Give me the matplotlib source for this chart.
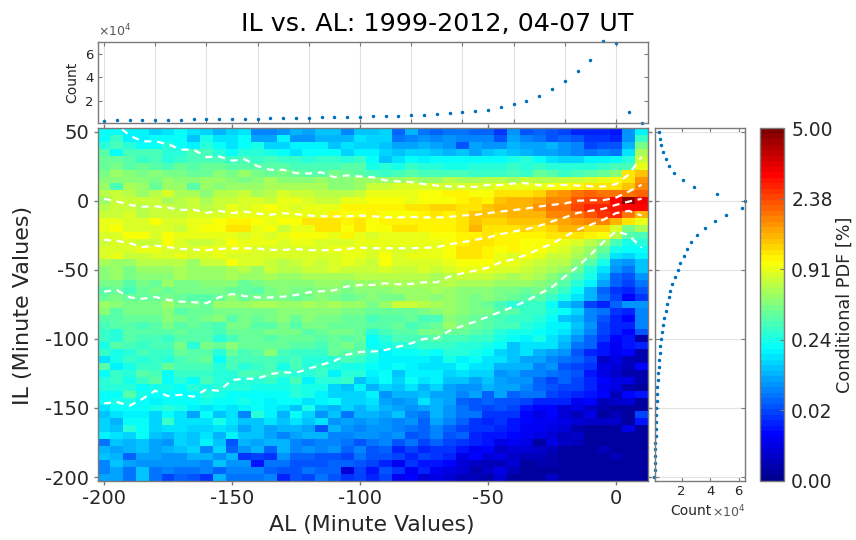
import numpy as np
import matplotlib
matplotlib.use('Agg')
import matplotlib.pyplot as plt
from matplotlib.colors import LinearSegmentedColormap

plt.rcParams['axes.unicode_minus'] = False

al_bins = np.arange(-200, 15, 5)
il_bins = np.arange(50, -205, -5)

# colour index (0-63 on the 64 step jet scale) read per cell, top row is IL=50
pdf_left = [
    [24,24,23,23,21,22,24,22,21,19,21,22,16,16,17,19,18,20,20,16,20],
    [24,27,23,23,24,24,24,20,25,22,22,24,18,18,23,17,17,19,19,19,22],
    [26,28,26,24,24,26,24,23,26,24,22,24,25,21,21,23,23,23,20,22,21],
    [29,24,28,28,28,26,26,28,28,26,24,26,26,25,24,22,24,24,24,21,23],
    [30,30,29,27,28,26,27,28,28,28,27,28,27,28,27,27,26,27,27,26,27],
    [30,31,29,30,29,28,30,29,30,30,29,29,29,29,29,28,28,28,28,29,29],
    [31,33,32,31,32,31,31,30,30,32,31,33,31,30,31,30,29,29,31,30,29],
    [32,32,32,32,31,33,32,32,33,33,32,31,32,34,32,32,32,33,32,32,33],
    [33,28,34,33,30,33,33,29,33,32,33,33,33,34,34,34,34,34,32,32,33],
    [35,36,35,33,35,37,34,34,32,35,35,36,34,35,37,36,36,35,35,35,36],
    [33,36,36,36,36,34,35,36,34,36,36,37,37,36,38,38,37,36,36,38,38],
    [35,36,36,35,36,36,35,36,35,36,38,37,38,39,38,37,38,38,38,40,40],
    [36,36,37,35,36,36,36,37,37,37,38,38,38,38,38,38,38,38,40,39,39],
    [38,38,37,37,39,37,37,38,38,39,40,40,39,38,39,39,41,41,41,40,41],
    [38,39,37,37,37,37,36,38,39,39,41,41,38,39,36,38,38,41,41,39,41],
    [37,37,39,39,37,39,38,38,38,38,38,37,38,37,38,39,39,39,38,40,38],
    [36,37,37,36,36,39,37,36,36,37,39,38,38,38,37,38,38,37,37,37,38],
    [37,37,37,38,38,37,37,37,38,38,38,38,37,37,37,37,37,37,38,38,38],
    [37,38,36,36,37,37,38,37,37,38,37,37,37,37,37,37,37,37,37,38,38],
    [34,33,33,35,35,35,35,33,36,36,39,37,37,36,35,36,37,36,37,38,37],
    [32,33,31,33,33,33,34,33,33,33,34,35,33,36,35,35,36,36,37,36,36],
    [32,33,31,32,32,32,34,33,33,33,34,33,33,34,33,33,34,34,34,34,35],
    [31,31,29,31,30,33,31,31,32,32,32,30,31,32,32,32,32,33,33,32,33],
    [29,30,28,30,31,30,31,31,31,31,30,30,29,31,32,31,31,32,32,31,32],
    [30,31,30,30,30,31,30,29,29,30,32,30,31,31,31,30,31,32,31,30,31],
    [33,32,31,31,31,33,31,31,30,33,33,33,34,34,33,33,34,33,34,33,33],
    [32,29,31,31,31,32,29,30,30,31,31,31,31,31,32,32,32,32,32,31,31],
    [29,29,30,30,30,32,31,30,31,32,29,31,30,31,32,30,32,31,31,30,30],
    [28,29,29,28,29,31,29,30,29,28,31,31,29,29,31,29,31,31,30,30,30],
    [27,26,29,29,29,29,30,29,29,28,30,30,30,31,31,31,29,30,31,31,30],
    [27,26,29,28,28,27,29,29,29,26,28,30,30,29,30,30,30,29,30,29,30],
    [25,29,28,27,28,28,31,26,31,30,32,30,30,30,30,29,29,28,30,31,29],
    [27,25,26,28,27,27,30,29,29,26,30,28,29,32,28,27,27,27,30,29,29],
    [22,25,27,26,27,26,28,29,30,24,28,28,28,28,27,28,26,26,26,28,27],
    [29,23,25,27,27,30,28,28,28,26,28,26,27,28,25,28,26,27,26,25,25],
    [24,27,26,29,28,24,27,27,27,26,26,28,28,28,27,26,26,27,23,26,26],
    [26,27,25,27,29,24,26,24,28,26,26,26,26,27,25,28,23,26,26,27,20],
    [26,26,26,24,25,25,24,26,25,26,26,26,25,25,25,26,25,25,21,20,23],
    [24,24,29,25,24,24,24,24,26,25,24,24,24,24,24,26,25,23,21,21,21],
    [24,25,25,24,23,24,24,24,25,24,24,25,24,23,24,24,22,23,24,21,21],
    [22,24,24,24,25,26,25,23,22,23,22,23,24,23,22,20,25,20,19,21,19],
    [20,22,23,23,21,24,22,18,24,20,22,16,26,23,19,24,21,17,20,15,19],
    [21,19,24,24,21,27,22,22,22,25,22,20,20,22,20,22,20,22,17,18,17],
    [21,20,26,24,21,22,22,21,21,22,21,18,20,18,19,19,18,13,19,17,16],
    [23,22,21,24,20,19,21,20,22,19,23,20,20,18,16,18,19,19,16,16,17],
    [15,20,19,20,18,17,21,20,23,20,13,19,18,19,19,16,15,16,16,15,13],
    [19,18,19,20,18,19,20,21,16,21,14,17,19,14,19,16,17,16,17,14,16],
    [20,19,14,18,18,17,17,19,19,17,19,11,12,11,17,14,14,13,13,12,15],
    [16,20,18,17,17,17,17,17,16,20,17,17,9,15,15,13,13,13,14,14,13],
    [16,18,15,20,15,16,15,15,16,14,16,16,16,14,13,13,15,14,14,5,12],
    [18,18,15,20,15,12,14,13,11,19,15,15,15,16,10,13,12,15,13,11,12],
]
pdf_right = [
    [20,21,14,19,15,14,15,15,14,14,11,17,13,14,13,12,10,10,10,9,17,23],
    [21,21,15,16,17,16,17,16,16,16,13,18,16,15,13,14,13,11,11,10,17,27],
    [21,20,18,18,19,18,17,13,18,17,17,19,18,18,19,17,16,12,13,13,19,31],
    [23,21,20,21,21,20,19,20,18,20,21,20,19,18,18,17,16,15,16,15,22,34],
    [24,20,22,24,23,24,24,24,24,24,24,25,26,24,22,21,21,23,23,24,26,36],
    [25,26,25,27,26,26,25,25,26,26,26,27,26,27,26,26,26,26,27,28,28,38],
    [28,27,28,29,28,28,28,28,27,27,27,28,27,30,29,27,28,29,30,32,41,43],
    [33,33,33,34,33,33,35,34,34,35,35,34,36,35,35,36,36,37,38,39,41,46],
    [36,36,37,37,37,37,36,37,37,37,38,38,38,38,39,39,40,41,41,41,43,47],
    [38,38,38,38,39,39,40,40,39,39,41,41,41,42,45,46,48,49,48,48,48,49],
    [39,39,39,38,39,39,39,40,41,40,43,44,44,45,47,47,50,51,51,55,62,56],
    [40,40,40,41,41,42,42,41,41,43,44,44,44,46,48,48,51,53,53,54,55,55],
    [40,39,39,39,40,41,40,41,43,43,43,44,44,44,47,47,48,50,52,53,48,44],
    [39,40,40,40,40,40,40,41,43,42,42,43,43,43,44,45,46,47,47,44,41,38],
    [39,39,41,41,40,40,40,41,44,41,41,41,42,41,42,44,44,42,42,37,31,34],
    [37,38,38,38,38,39,39,40,40,41,40,40,40,40,41,41,41,40,39,35,29,28],
    [38,38,38,38,38,38,39,40,41,41,40,40,39,39,39,38,37,35,33,28,25,26],
    [37,38,37,37,38,38,39,41,41,40,39,40,39,39,38,37,35,33,30,25,24,24],
    [37,39,37,38,38,38,39,41,41,40,38,37,39,38,36,36,34,32,28,22,21,23],
    [36,39,37,37,37,37,38,39,39,39,38,38,37,36,35,35,32,29,25,18,17,20],
    [36,37,36,36,37,36,37,38,38,38,37,37,36,35,34,33,30,26,22,17,15,20],
    [35,35,35,35,35,34,35,36,36,36,35,34,35,34,32,30,28,25,20,14,13,17],
    [33,34,34,34,34,34,35,34,34,34,33,33,33,32,31,29,26,23,18,14,12,15],
    [32,32,33,33,33,34,33,32,32,32,31,31,30,31,29,27,24,19,14,11,10,13],
    [32,31,31,33,33,32,33,32,31,32,31,30,29,29,27,25,22,19,15,12,8,11],
    [31,33,36,36,35,34,33,32,31,30,28,26,27,27,24,20,18,12,10,14,17,17],
    [30,30,30,30,31,32,33,32,31,31,29,29,27,27,25,24,21,16,15,11,10,16],
    [28,29,29,30,28,28,32,31,30,29,28,27,27,26,24,20,19,16,13,10,8,16],
    [29,29,30,28,29,30,33,31,30,29,28,28,26,25,23,23,20,17,12,10,10,16],
    [26,28,29,29,31,31,30,30,29,28,26,25,25,24,23,22,19,16,12,10,8,13],
    [24,26,28,28,28,29,28,28,27,27,25,24,23,25,22,20,17,14,11,8,9,2],
    [24,25,26,26,27,27,27,26,26,25,24,20,22,22,22,19,15,14,9,7,9,10],
    [26,23,24,24,25,24,26,26,25,24,21,20,22,19,18,17,13,10,9,7,8,2],
    [25,23,23,23,23,22,25,23,24,22,22,20,18,18,16,15,14,12,4,6,3,2],
    [24,23,24,23,22,22,22,24,22,22,19,19,19,16,17,13,12,11,6,5,3,8],
    [23,24,20,23,23,23,21,22,21,21,17,18,16,16,15,14,13,9,6,4,2,2],
    [22,24,21,24,22,23,20,20,18,20,18,17,17,14,12,14,12,10,8,6,6,2],
    [19,21,20,22,19,21,18,17,17,19,18,18,16,14,13,12,12,10,7,6,2,1],
    [23,17,19,19,20,18,18,16,18,14,18,14,15,15,12,11,10,9,8,3,8,9],
    [22,18,17,18,22,19,18,14,13,14,13,13,12,10,10,10,7,8,3,4,5,1],
    [21,19,18,17,18,19,17,15,13,12,13,12,9,8,8,5,6,4,2,1,1,1],
    [19,18,20,16,15,19,17,15,15,11,11,11,8,6,8,5,3,6,1,3,1,12],
    [18,17,16,17,14,18,16,14,11,10,11,9,8,7,7,6,5,4,4,4,1,9],
    [17,17,16,15,14,16,14,12,11,11,10,9,7,7,6,5,2,1,1,1,6,1],
    [17,16,17,13,14,16,13,14,10,9,9,8,7,6,5,3,4,1,1,1,1,1],
    [15,16,13,15,12,14,12,11,10,9,6,7,6,1,6,4,3,1,1,1,1,1],
    [13,14,10,12,10,11,11,9,7,8,4,5,5,4,3,1,1,1,3,1,1,1],
    [13,13,12,10,12,11,10,6,8,5,6,4,3,3,2,1,1,1,1,3,1,1],
    [12,10,7,11,9,9,8,5,4,3,3,5,1,2,2,1,1,1,1,1,1,1],
    [9,13,11,7,10,7,6,5,2,4,6,3,1,1,1,1,1,1,1,1,1,1],
    [10,12,7,8,5,6,5,3,3,2,5,1,1,1,4,1,1,1,1,1,1,1],
]

# dashed percentile curves, one value per AL bin
curve_1 = [65,55,47.3,43,43,41,37,37,31.6,32,29,30,25,22.4,22.4,20,19.7,20.5,17,18.3,17.6,
           17,14.7,14,13.5,12,11,10.3,10.3,10,11.5,11.3,12.5,12.7,11.3,10.8,11.5,11,10.5,10.3,12,19,32]
curve_2 = [1.4,-0.5,-3,-4.4,-4,-5,-6.6,-6.4,-8.8,-7.3,-9,-7.8,-9.3,-10.2,-9,-9.7,-10.7,-11.2,-11.4,-11.2,-10.7,
           -11.2,-12,-12.1,-11.7,-12.1,-12.1,-11.7,-10.7,-10.2,-9,-7.8,-6.8,-5.6,-4.2,-3,-2,0,0.4,0.4,2.3,6.7,11.5]
curve_3 = [-28.3,-29,-30.7,-33.6,-32.4,-33.6,-34.9,-35.3,-35.8,-34.9,-34.6,-34.4,-34.6,-35.6,-35.6,-34.9,-35.8,-35.8,-35.8,-34.9,-33.9,
           -34.4,-34.4,-34.4,-34.4,-34.1,-33.6,-31.5,-30,-28.3,-26.6,-24.2,-22.3,-20.6,-18.2,-15,-12.1,-8.8,-7.3,-5.9,-3,-0.6,1.4]
curve_4 = [-65.8,-64.6,-69.9,-71,-69.6,-71.8,-73,-73.5,-74.2,-69.9,-67.5,-69,-70,-70,-69.4,-68.2,-66.3,-65.5,-64.8,-62,-61,
           -61,-59.7,-60.5,-60.2,-59,-59,-54.9,-52.5,-50.6,-48.4,-44.5,-42.3,-39.2,-34.9,-31.2,-25.9,-21,-17.5,-13.8,-9,-7.3,-10.7]
curve_5 = [-146.7,-145.7,-148.4,-143.5,-137.5,-141.4,-140.4,-141.8,-136.5,-137.7,-129.8,-128.8,-128.8,-125.4,-124.2,-124.5,-121.6,-118.7,-116,-111.4,-109.5,
           -109.2,-108,-105.6,-103.2,-100,-99.6,-94,-90.6,-87.5,-83.9,-80.3,-76.6,-72.5,-67.5,-62.6,-54.9,-47.7,-39.2,-30,-22,-25,-34]

# marginal counts in units of 1e4
al_count = [.33,.35,.35,.38,.41,.41,.41,.44,.44,.47,.47,.5,.5,.52,.52,.55,.58,.61,.61,.64,.67,
            .7,.72,.75,.78,.84,.87,.95,1.06,1.12,1.26,1.46,1.72,2.0,2.42,3.02,3.7,4.5,5.43,7.05,6.88,1.06,.15]
il_count = [.39,.46,.57,.71,.9,1.13,1.49,2.07,2.89,4.48,6.47,6.21,5.09,4.36,3.66,3.1,2.68,2.4,2.14,1.9,1.72,
            1.51,1.35,1.2,1.09,.97,.88,.78,.69,.64,.55,.5,.46,.43,.39,.36,.32,.3,.27,.25,.22,.2,.2,.18,.18,.15,.15,.13,.13,.11,.08]

cbar_labels = ['0.00', '0.02', '0.24', '0.91', '2.38', '5.00']
al_ticks = [-200, -150, -100, -50, 0]
il_ticks = [-200, -150, -100, -50, 0, 50]

W, H = 856, 540
GRAY = '#7a7a7a'
TEXT = '#262626'
DOT = '#0072bd'

# MATLAB flavoured jet, the matplotlib one sits slightly off
matlab_jet = LinearSegmentedColormap('matlab_jet', {
    'red': [(0, 0, 0), (.375, 0, 0), (.625, 1, 1), (.875, 1, 1), (1, .5, .5)],
    'green': [(0, 0, 0), (.125, 0, 0), (.375, 1, 1), (.625, 1, 1), (.875, 0, 0), (1, 0, 0)],
    'blue': [(0, .5625, .5625), (.125, 1, 1), (.375, 1, 1), (.625, 0, 0), (1, 0, 0)],
}, N=64)


def px_axes(fig, left, top, right, bottom):
    return fig.add_axes([left / W, 1 - bottom / H, (right - left) / W, (bottom - top) / H])


def style_box(ax):
    for s in ax.spines.values():
        s.set_color(GRAY)
        s.set_linewidth(1.0)


fig = plt.figure(figsize=(W / 100, H / 100), dpi=100)

# main panel
ax = px_axes(fig, 97.5, 128.2, 648, 480.5)
pdf = np.hstack([np.array(pdf_left), np.array(pdf_right)])
x_edges = np.append(al_bins - 2.5, al_bins[-1] + 2.5)
y_edges = np.append(il_bins + 2.5, il_bins[-1] - 2.5)
mesh = ax.pcolormesh(x_edges, y_edges, pdf, cmap=matlab_jet, vmin=-0.5, vmax=63.5)
for curve in [curve_1, curve_2, curve_3, curve_4, curve_5]:
    ax.plot(al_bins, curve, color='white', lw=1.6, dashes=(3.2, 2.6))
ax.set_xlim(-202.5, 12.5)
ax.set_ylim(-202.5, 52.5)
ax.set_xticks(al_ticks)
ax.set_yticks(il_ticks)
ax.tick_params(direction='out', length=3, width=1, color=GRAY, labelcolor=TEXT, labelsize=14,
               top=True, right=True, pad=3)
style_box(ax)
fig.text(372 / W, 1 - 525 / H, 'AL (Minute Values)', fontsize=15.8, color=TEXT, ha='center', va='center')
fig.text(23 / W, 1 - 305 / H, 'IL (Minute Values)', fontsize=16, color=TEXT, rotation=90, ha='center', va='center')

# top marginal
ax_top = px_axes(fig, 97.5, 42, 648, 123)
ax_top.plot(al_bins, al_count, ls='none', marker='o', ms=1.5, color=DOT, clip_on=False)
ax_top.set_xlim(-202.5, 12.5)
ax_top.set_ylim(0.12, 7.0)
ax_top.set_xticks(np.arange(-200, 20, 20))
ax_top.set_yticks([2, 4, 6])
ax_top.set_xticklabels([])
ax_top.grid(axis='x', color='#e2e2e2', lw=0.8)
ax_top.set_axisbelow(True)
ax_top.tick_params(direction='in', length=3, width=0.8, color=GRAY, labelcolor=TEXT, labelsize=9.5,
                   top=True, right=True, pad=3)
ax_top.set_ylabel('Count', fontsize=10, color=TEXT, labelpad=4)
ax_top.text(0.0, 1.03, r'$\times 10^4$', transform=ax_top.transAxes, fontsize=9, color='#555555', va='bottom')
style_box(ax_top)

# right marginal
ax_right = px_axes(fig, 655, 128.2, 745.3, 480.5)
ax_right.plot(il_count, il_bins, ls='none', marker='o', ms=1.5, color=DOT, clip_on=False)
ax_right.set_xlim(0.13, 6.46)
ax_right.set_ylim(-202.5, 52.5)
ax_right.set_yticks(il_ticks)
ax_right.set_yticklabels([])
ax_right.set_xticks([2, 4, 6])
ax_right.grid(axis='y', color='#e2e2e2', lw=0.8)
ax_right.set_axisbelow(True)
ax_right.tick_params(direction='in', length=3, width=0.8, color=GRAY, labelcolor=TEXT, labelsize=9.5,
                     top=True, right=True, pad=3)
style_box(ax_right)
fig.text(691 / W, 1 - 511 / H, 'Count', fontsize=10, color=TEXT, ha='center', va='center')
fig.text(729 / W, 1 - 512 / H, r'$\times 10^4$', fontsize=9, color='#555555', ha='center', va='center')

# colour bar
cax = px_axes(fig, 759.7, 128.3, 784.3, 481)
cbar = fig.colorbar(mesh, cax=cax, ticks=np.linspace(-0.5, 63.5, 6))
cbar.ax.set_yticklabels(cbar_labels)
cbar.ax.tick_params(direction='in', length=3, width=0.8, color=GRAY, labelcolor=TEXT, labelsize=13.5, pad=5)
cbar.outline.set_edgecolor(GRAY)
cbar.outline.set_linewidth(1.0)
fig.text(845 / W, 1 - 305 / H, 'Conditional PDF [%]', fontsize=12.7, color=TEXT, rotation=90,
         ha='center', va='center')

fig.text(437 / W, 1 - 24 / H, 'IL vs. AL: 1999-2012, 04-07 UT', fontsize=18.3, color='black',
         ha='center', va='center')

fig.savefig('out.png', dpi=100)
